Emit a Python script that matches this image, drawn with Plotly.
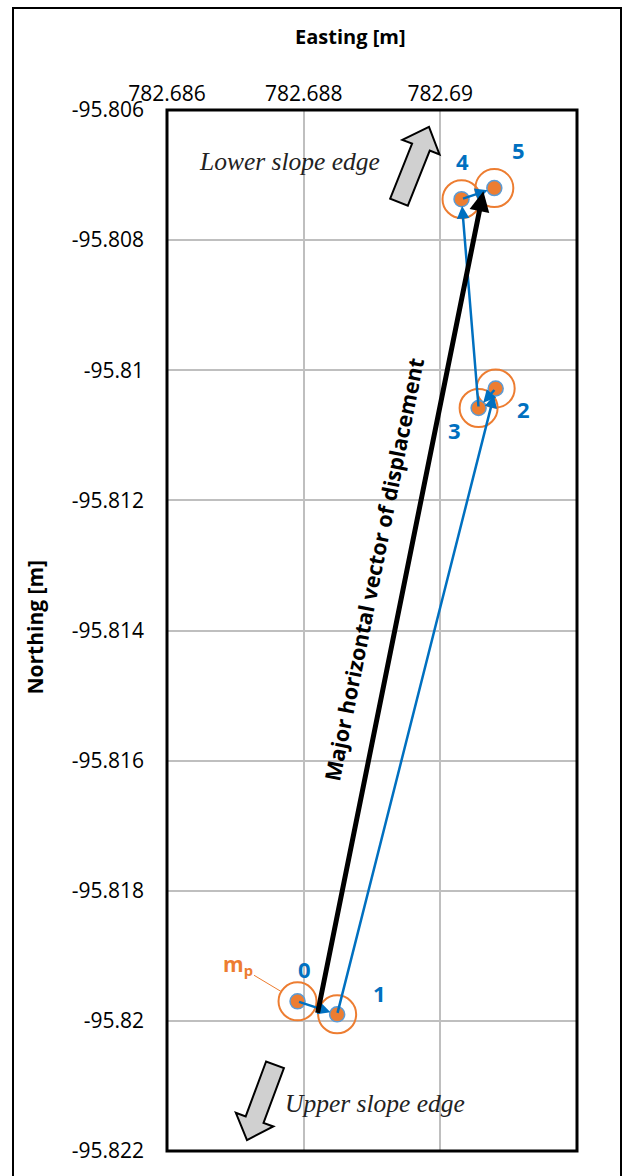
import math
import plotly.graph_objects as go

# ---------------- data ----------------
point_labels = ["0", "1", "2", "3", "4", "5"]
easting = [782.68791, 782.68849, 782.69081, 782.69056, 782.69031, 782.69079]
northing = [-95.81970, -95.81990, -95.81028, -95.81058, -95.80737, -95.80720]

vector_start = [782.68820, -95.81990]
vector_end = [782.69063, -95.80725]

x_tickvals = [782.686, 782.688, 782.690]
x_ticktext = ["782.686", "782.688", "782.69"]
y_tickvals = [-95.806, -95.808, -95.810, -95.812, -95.814, -95.816, -95.818, -95.820, -95.822]
y_ticktext = ["-95.806", "-95.808", "-95.81", "-95.812", "-95.814", "-95.816", "-95.818", "-95.82", "-95.822"]

# ---------------- style / layout ----------------
W, H = 626, 1176
PL, PR, PT, PB = 167, 577, 110, 1160
ORANGE = "#ED7D31"
BLUE = "#0070C0"
TICKFONT = dict(family="Open Sans", size=21, color="#000000")

label_shift = {"0": (7, 32), "1": (42, 21), "2": (28, -21), "3": (-24, -22), "4": (1, 38), "5": (24, 38)}


def px(x):
    return (x - PL) / (PR - PL)


def py(y):
    return (PB - y) / (PB - PT)


def block_arrow(tail, tip, shaft_w, head_w, head_len):
    tx, ty = tail
    hx, hy = tip
    dx, dy = hx - tx, hy - ty
    L = math.hypot(dx, dy)
    ux, uy = dx / L, dy / L
    nx, ny = -uy, ux
    bx, by = hx - ux * head_len, hy - uy * head_len
    pts = [
        (tx + nx * shaft_w / 2, ty + ny * shaft_w / 2),
        (bx + nx * shaft_w / 2, by + ny * shaft_w / 2),
        (bx + nx * head_w / 2, by + ny * head_w / 2),
        (hx, hy),
        (bx - nx * head_w / 2, by - ny * head_w / 2),
        (bx - nx * shaft_w / 2, by - ny * shaft_w / 2),
        (tx - nx * shaft_w / 2, ty - ny * shaft_w / 2),
    ]
    path = "M " + " L ".join(f"{px(a):.5f},{py(b):.5f}" for a, b in pts) + " Z"
    return dict(type="path", xref="paper", yref="paper", path=path,
                fillcolor="#D0D0D0", line=dict(color="#000000", width=2), layer="above")


fig = go.Figure()

# big tolerance circles
fig.add_trace(go.Scatter(
    x=easting, y=northing, mode="markers",
    marker=dict(symbol="circle-open", size=38, color=ORANGE, line=dict(width=2, color=ORANGE)),
    hoverinfo="skip", showlegend=False, cliponaxis=False))

# measured points
fig.add_trace(go.Scatter(
    x=easting, y=northing, mode="markers",
    marker=dict(symbol="circle", size=15, color=ORANGE, line=dict(width=1.5, color="#5B9BD5")),
    showlegend=False, cliponaxis=False))

annotations = []

# blue displacement path arrows
for i in range(1, len(easting)):
    annotations.append(dict(
        x=easting[i], y=northing[i], ax=easting[i - 1], ay=northing[i - 1],
        xref="x", yref="y", axref="x", ayref="y", text="",
        showarrow=True, arrowhead=2, arrowsize=1.0, arrowwidth=2.5,
        arrowcolor=BLUE, standoff=7, startstandoff=0))

# point labels
for lab, xv, yv in zip(point_labels, easting, northing):
    sx, sy = label_shift[lab]
    annotations.append(dict(
        x=xv, y=yv, xref="x", yref="y", text=f"<b>{lab}</b>", showarrow=False,
        xshift=sx, yshift=sy, xanchor="center", yanchor="middle",
        font=dict(family="Open Sans", size=22, color=BLUE)))

# major vector
annotations.append(dict(
    x=vector_end[0], y=vector_end[1], ax=vector_start[0], ay=vector_start[1],
    xref="x", yref="y", axref="x", ayref="y", text="",
    showarrow=True, arrowhead=2, arrowsize=0.8, arrowwidth=5,
    arrowcolor="#000000", standoff=0))

t = 0.54
annotations.append(dict(
    x=vector_start[0] + t * (vector_end[0] - vector_start[0]),
    y=vector_start[1] + t * (vector_end[1] - vector_start[1]),
    xref="x", yref="y", text="<b>Major horizontal vector of displacement</b>",
    showarrow=False, textangle=-78.7, xshift=-33, xanchor="center", yanchor="middle",
    font=dict(family="Open Sans", size=21.5, color="#000000")))

# m_p label
annotations.append(dict(
    x=easting[0], y=northing[0], xref="x", yref="y",
    text="<b>m<sub>p</sub></b>", showarrow=True, arrowhead=0, arrowwidth=1,
    arrowcolor=ORANGE, ax=-60, ay=-36, standoff=18,
    font=dict(family="Open Sans", size=21, color=ORANGE)))

# slope edge texts
annotations.append(dict(x=px(289), y=py(162), xref="paper", yref="paper",
                        xanchor="center", yanchor="middle",
                        text="<i>Lower slope edge</i>", showarrow=False,
                        font=dict(family="Liberation Serif", size=25.5, color="#222222")))
annotations.append(dict(x=px(375), y=py(1112), xref="paper", yref="paper",
                        xanchor="center", yanchor="middle",
                        text="<i>Upper slope edge</i>", showarrow=False,
                        font=dict(family="Liberation Serif", size=25.5, color="#222222")))

# axis titles
annotations.append(dict(x=px(350), y=py(36), xref="paper", yref="paper",
                        xanchor="center", yanchor="middle",
                        text="<b>Easting [m]</b>", showarrow=False,
                        font=dict(family="Open Sans", size=20, color="#000000")))
annotations.append(dict(x=px(35), y=py(632), xref="paper", yref="paper",
                        xanchor="center", yanchor="middle",
                        text="<b>Northing [m]</b>", showarrow=False, textangle=-90,
                        font=dict(family="Open Sans", size=21, color="#000000")))

shapes = [
    # outer frame
    dict(type="rect", xref="paper", yref="paper", x0=px(13), x1=px(621), y0=py(1190), y1=py(7),
         line=dict(color="#000000", width=2), layer="below"),
    # plot area border
    dict(type="rect", xref="paper", yref="paper", x0=0, x1=1, y0=0, y1=1,
         line=dict(color="#000000", width=3), layer="above"),
    block_arrow((399, 203), (429, 127), 19, 40, 22),
    block_arrow((275, 1073), (247, 1149), 19, 40, 22),
]

fig.update_layout(
    width=W, height=H,
    margin=dict(l=PL, r=W - PR, t=PT, b=H - PB),
    paper_bgcolor="#FFFFFF", plot_bgcolor="#FFFFFF",
    showlegend=False,
    annotations=annotations, shapes=shapes,
    xaxis=dict(range=[782.686, 782.692], side="top", tickvals=x_tickvals, ticktext=x_ticktext,
               showgrid=True, gridcolor="#BFBFBF", gridwidth=1.5, zeroline=False,
               showline=False, ticks="", tickfont=TICKFONT, ticklabelstandoff=4, fixedrange=True),
    yaxis=dict(range=[-95.822, -95.806], tickvals=y_tickvals, ticktext=y_ticktext,
               showgrid=True, gridcolor="#BFBFBF", gridwidth=1.5, zeroline=False,
               showline=False, ticks="", tickfont=TICKFONT, ticklabelstandoff=22, fixedrange=True),
)

fig.write_html("out.html")
